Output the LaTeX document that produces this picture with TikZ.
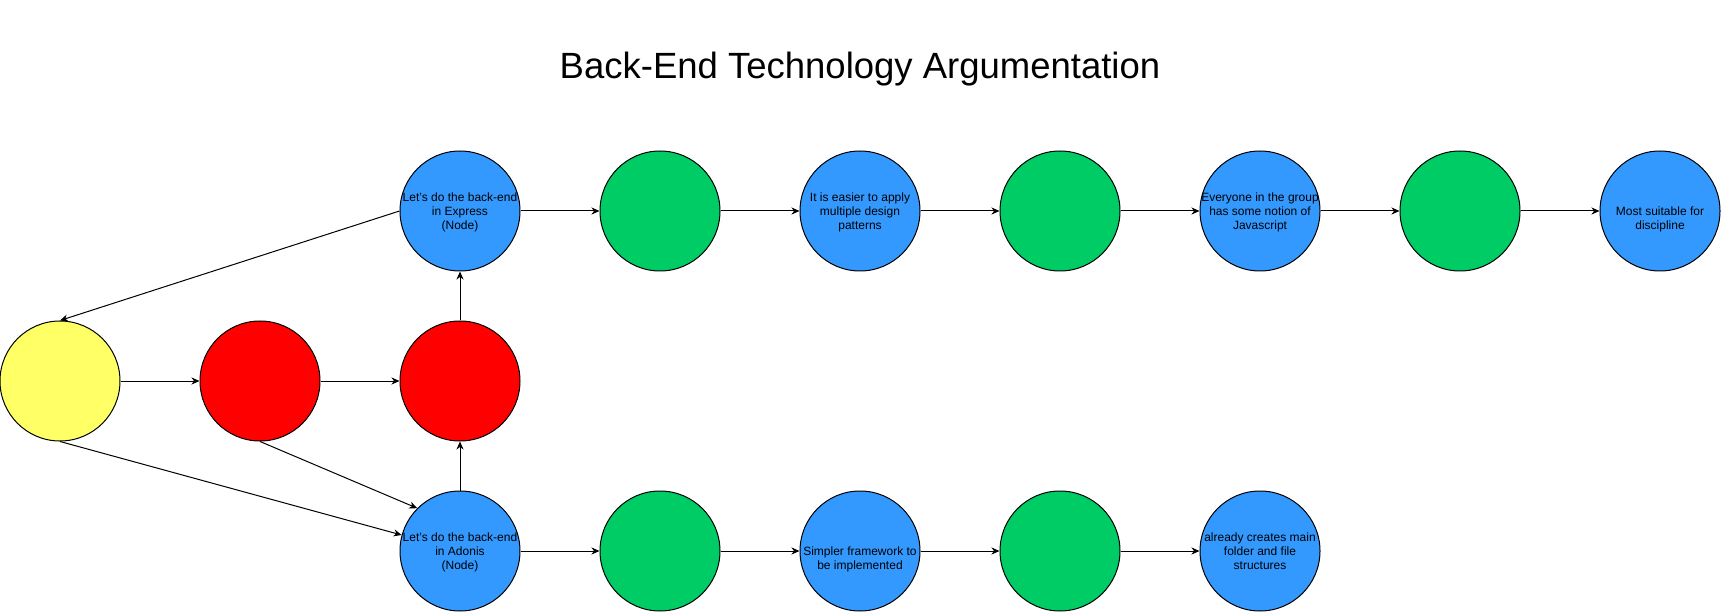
\documentclass[tikz,border=0pt]{standalone}
\usepackage{fontspec}
\setmainfont{Liberation Sans}
\usetikzlibrary{arrows.meta}

\definecolor{argblue}{HTML}{3399FF}
\definecolor{arggreen}{HTML}{00CC66}
\definecolor{argred}{HTML}{FF0000}
\definecolor{argyellow}{HTML}{FFFF66}

\begin{document}
\begin{tikzpicture}[x=1pt,y=-1pt,
  ball/.style={circle, draw=black, line width=1pt, minimum size=120pt, inner sep=0pt},
  claim/.style={ball, fill=argblue},
  support/.style={ball, fill=arggreen},
  attack/.style={ball, fill=argred},
  issue/.style={ball, fill=argyellow},
  lbl/.style={align=center, font=\fontsize{12}{14}\selectfont, inner sep=0pt, anchor=north},
  link/.style={-{Stealth[length=8pt,width=7pt,inset=2.5pt]}, line width=1pt}]

\useasboundingbox (0,0) rectangle (1722,612);

% title
\node[font=\fontsize{36.5}{43}\selectfont] (title) at (860,69) {Back-End Technology Argumentation};

% middle row
\node[issue]  (yel) at (60,381) {};
\node[attack] (r1)  at (260,381) {};
\node[attack] (r2)  at (460,381) {};

% upper row: Express
\node[claim]   (ex) at (460,211) {};
\node[support] (g1) at (660,211) {};
\node[claim]   (b1) at (860,211) {};
\node[support] (g2) at (1060,211) {};
\node[claim]   (b2) at (1260,211) {};
\node[support] (g3) at (1460,211) {};
\node[claim]   (b3) at (1660,211) {};

% lower row: Adonis
\node[claim]   (ad) at (460,551) {};
\node[support] (g4) at (660,551) {};
\node[claim]   (b4) at (860,551) {};
\node[support] (g5) at (1060,551) {};
\node[claim]   (b5) at (1260,551) {};

% circle texts (three-line texts centred, two-line texts start at the centre)
\node[lbl] (tex) at ([yshift=18pt]ex.center) {Let's do the back-end\\in Express\\(Node)};
\node[lbl] (tb1) at ([yshift=18pt]b1.center) {It is easier to apply\\multiple design\\patterns};
\node[lbl] (tb2) at ([yshift=18pt]b2.center) {Everyone in the group\\has some notion of\\Javascript};
\node[lbl] (tb3) at ([yshift=4.5pt]b3.center) {Most suitable for\\discipline};
\node[lbl] (tad) at ([yshift=18pt]ad.center) {Let's do the back-end\\in Adonis\\(Node)};
\node[lbl] (tb4) at ([yshift=4.5pt]b4.center) {Simpler framework to\\be implemented};
\node[lbl] (tb5) at ([yshift=18pt]b5.center) {already creates main\\folder and file\\structures};

% connectors
\draw[link] (ex.west) -- (yel.north);
\draw[link] (yel) -- (r1);
\draw[link] (r1) -- (r2);
\draw[link] (r2) -- (ex);
\draw[link] (ad) -- (r2);
\draw[link] (yel.south) -- (ad);
\draw[link] (r1.south) -- (ad.north west);

\draw[link] (ex) -- (g1);
\draw[link] (g1) -- (b1);
\draw[link] (b1) -- (g2);
\draw[link] (g2) -- (b2);
\draw[link] (b2) -- (g3);
\draw[link] (g3) -- (b3);

\draw[link] (ad) -- (g4);
\draw[link] (g4) -- (b4);
\draw[link] (b4) -- (g5);
\draw[link] (g5) -- (b5);
\end{tikzpicture}
\end{document}
